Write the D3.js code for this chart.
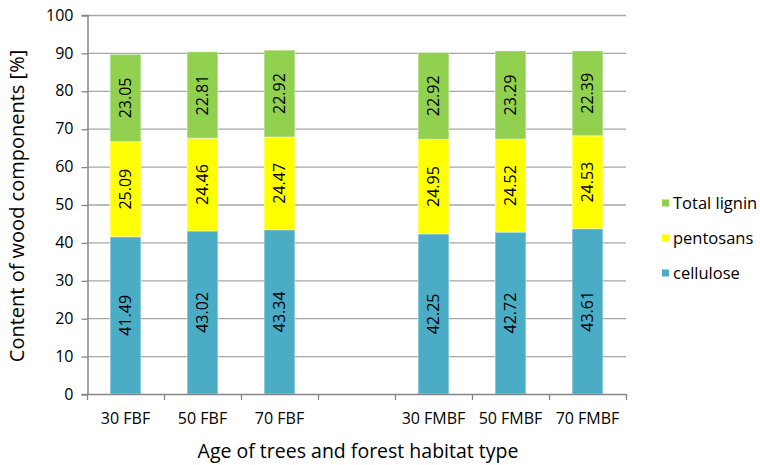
<!DOCTYPE html>
<html>
<head>
<meta charset="utf-8">
<script src="https://cdn.jsdelivr.net/npm/d3@7/dist/d3.min.js"></script>
<style>
  html, body { margin: 0; padding: 0; background: #fff; }
  svg { display: block; font-family: "Open Sans", sans-serif; }
</style>
</head>
<body>
<svg id="chart" width="760" height="465"></svg>
<script>
// Stand categories; the empty slot separates the FBF and FMBF groups
const categories = ["30 FBF", "50 FBF", "70 FBF", "", "30 FMBF", "50 FMBF", "70 FMBF"];
const stands = ["30 FBF", "50 FBF", "70 FBF", "30 FMBF", "50 FMBF", "70 FMBF"];
const cellulose = [41.49, 43.02, 43.34, 42.25, 42.72, 43.61];
const pentosans = [25.09, 24.46, 24.47, 24.95, 24.52, 24.53];
const totalLignin = [23.05, 22.81, 22.92, 22.92, 23.29, 22.39];
const yTicks = [0, 10, 20, 30, 40, 50, 60, 70, 80, 90, 100];

const seriesNames = ["cellulose", "pentosans", "Total lignin"];
const seriesValues = [cellulose, pentosans, totalLignin];
const colors = ["#4BACC6", "#FFFF00", "#92D050"];

const svg = d3.select("#chart");
const plot = { left: 87, right: 626, top: 15, bottom: 394 };

const x = d3.scaleBand().domain(categories.map((c, i) => i)).range([plot.left, plot.right]).paddingInner(0.6).paddingOuter(0.3);
const slot = d3.scaleBand().domain(categories.map((c, i) => i)).range([plot.left, plot.right]);
const y = d3.scaleLinear().domain([0, 100]).range([plot.bottom, plot.top]);

// Horizontal gridlines
svg.append("g").selectAll("line").data(yTicks.filter(t => t > 0)).join("line")
  .attr("x1", plot.left).attr("x2", plot.right)
  .attr("y1", d => y(d) + 0.5).attr("y2", d => y(d) + 0.5)
  .attr("stroke", "#a6a6a6").attr("stroke-width", 1.3);

// Y axis
const yAxis = svg.append("g").attr("transform", `translate(${plot.left + 0.5},0)`)
  .call(d3.axisLeft(y).tickValues(yTicks).tickSize(6).tickPadding(8));
yAxis.select(".domain").attr("stroke", "#868686").attr("stroke-width", 1.5);
yAxis.selectAll(".tick line").attr("stroke", "#868686").attr("stroke-width", 1.3)
  .attr("transform", "translate(0,0.5)");
yAxis.selectAll(".tick text").attr("font-size", 16).attr("fill", "#000")
  .attr("font-family", "Open Sans, sans-serif");

// Stacked bars
const stacked = stands.map((s, i) => {
  let base = 0;
  return seriesValues.map((vals, k) => {
    const seg = { stand: s, idx: categories.indexOf(s), k, v: vals[i], y0: base, y1: base + vals[i] };
    base += vals[i];
    return seg;
  });
}).flat();

const bars = svg.append("g");
bars.selectAll("rect").data(stacked).join("rect")
  .attr("x", d => x(d.idx))
  .attr("width", x.bandwidth())
  .attr("y", d => y(d.y1))
  .attr("height", d => y(d.y0) - y(d.y1))
  .attr("fill", d => colors[d.k])
  .attr("stroke", "rgba(255,255,255,0.45)")
  .attr("stroke-width", 1);

// Value labels, rotated inside each segment
bars.selectAll("text").data(stacked).join("text")
  .attr("transform", d => `translate(${x(d.idx) + x.bandwidth() / 2},${y((d.y0 + d.y1) / 2)}) rotate(-90)`)
  .attr("text-anchor", "middle")
  .attr("dy", "0.35em")
  .attr("font-size", 16)
  .attr("fill", "#000")
  .text(d => d.v.toFixed(2));

// X axis line with ticks at slot boundaries
svg.append("line")
  .attr("x1", plot.left).attr("x2", plot.right)
  .attr("y1", plot.bottom + 0.5).attr("y2", plot.bottom + 0.5)
  .attr("stroke", "#868686").attr("stroke-width", 1.5);
const boundaries = categories.map((c, i) => slot(i)).concat([plot.right]);
svg.append("g").selectAll("line").data(boundaries).join("line")
  .attr("x1", d => Math.round(d) + 0.5).attr("x2", d => Math.round(d) + 0.5)
  .attr("y1", plot.bottom).attr("y2", plot.bottom + 6)
  .attr("stroke", "#868686").attr("stroke-width", 1.3);

svg.append("g").selectAll("text").data(categories).join("text")
  .attr("x", (d, i) => slot(i) + slot.bandwidth() / 2)
  .attr("y", 424)
  .attr("text-anchor", "middle")
  .attr("font-size", 16)
  .attr("fill", "#000")
  .text(d => d);

// Axis titles
svg.append("text")
  .attr("x", 358).attr("y", 458)
  .attr("text-anchor", "middle")
  .attr("font-size", 19.5)
  .attr("fill", "#000")
  .text("Age of trees and forest habitat type");

svg.append("text")
  .attr("transform", "translate(24,206) rotate(-90)")
  .attr("text-anchor", "middle")
  .attr("font-size", 20)
  .attr("fill", "#000")
  .text("Content of wood components [%]");

// Legend (top entry is the top of the stack)
const legendItems = seriesNames.map((n, k) => ({ name: n, color: colors[k] })).reverse();
const legend = svg.append("g").selectAll("g").data(legendItems).join("g")
  .attr("transform", (d, i) => `translate(662,${203 + i * 35})`);
legend.append("rect").attr("x", 0).attr("y", -3.5).attr("width", 7).attr("height", 7)
  .attr("fill", d => d.color);
legend.append("text").attr("x", 11).attr("dy", "0.35em")
  .attr("font-size", 16.5).attr("fill", "#000")
  .text(d => d.name);
</script>
</body>
</html>
